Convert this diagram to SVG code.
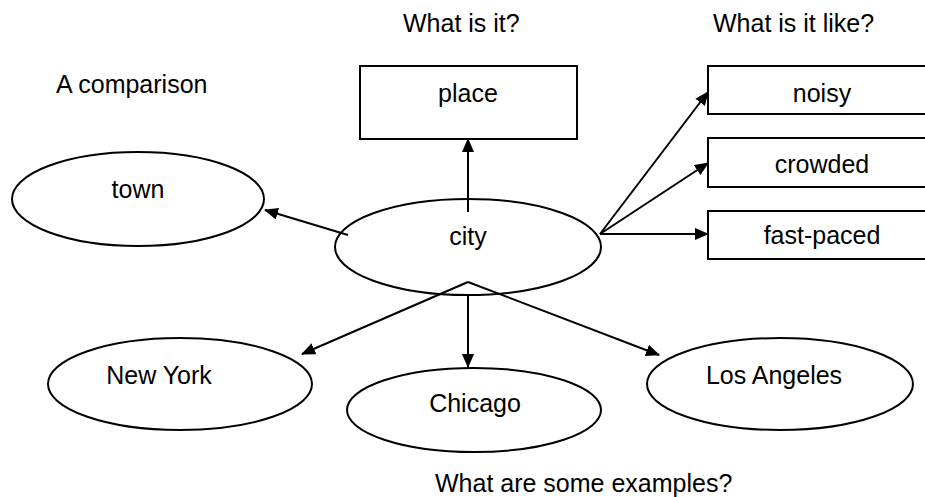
<svg xmlns="http://www.w3.org/2000/svg" width="925" height="497" viewBox="0 0 925 497">
<style>
  text { font-family: "Liberation Sans", Arial, sans-serif; font-size: 25px; fill: #000; }
  .c { text-anchor: middle; }
  .shape { fill: #fff; stroke: #000; stroke-width: 2; }
  .conn line { stroke: #000; stroke-width: 2; }
</style>
<defs>
  <marker id="arr" markerUnits="userSpaceOnUse" markerWidth="14" markerHeight="12" refX="13" refY="6" orient="auto">
    <path d="M0,0 L14,6 L0,12 z" fill="#000"/>
  </marker>
</defs>
<rect width="925" height="497" fill="#fff"/>

<g id="labels">
  <text x="56" y="93">A comparison</text>
  <text x="403" y="32">What is it?</text>
  <text x="713" y="32">What is it like?</text>
  <text x="435" y="492">What are some examples?</text>
</g>

<g id="place">
  <rect class="shape" x="360" y="66" width="217" height="73"/>
  <text class="c" x="468" y="102">place</text>
</g>
<g id="noisy">
  <rect class="shape" x="708" y="66" width="240" height="48"/>
  <text class="c" x="822" y="102">noisy</text>
</g>
<g id="crowded">
  <rect class="shape" x="708" y="138" width="240" height="49"/>
  <text class="c" x="822" y="173">crowded</text>
</g>
<g id="fast-paced">
  <rect class="shape" x="708" y="211" width="240" height="48"/>
  <text class="c" x="822" y="244">fast-paced</text>
</g>
<g id="town">
  <ellipse class="shape" cx="138" cy="199" rx="126" ry="47"/>
  <text class="c" x="138" y="198">town</text>
</g>
<g id="city">
  <ellipse class="shape" cx="468" cy="247" rx="133" ry="48"/>
  <text class="c" x="468" y="245">city</text>
</g>
<g id="new-york">
  <ellipse class="shape" cx="180" cy="384" rx="132" ry="46"/>
  <text class="c" x="159" y="384">New York</text>
</g>
<g id="chicago">
  <ellipse class="shape" cx="474" cy="410" rx="127" ry="42"/>
  <text class="c" x="475" y="412">Chicago</text>
</g>
<g id="los-angeles">
  <ellipse class="shape" cx="780" cy="384" rx="133" ry="46"/>
  <text class="c" x="774" y="384">Los Angeles</text>
</g>

<g id="connectors" class="conn">
  <line x1="468" y1="212" x2="468" y2="139" marker-end="url(#arr)"/>
  <line x1="348" y1="235" x2="265" y2="210" marker-end="url(#arr)"/>
  <line x1="600" y1="234" x2="708" y2="92" marker-end="url(#arr)"/>
  <line x1="600" y1="234" x2="708" y2="163" marker-end="url(#arr)"/>
  <line x1="600" y1="234" x2="708" y2="234" marker-end="url(#arr)"/>
  <line x1="468" y1="282" x2="302" y2="354" marker-end="url(#arr)"/>
  <line x1="468" y1="295" x2="468" y2="367" marker-end="url(#arr)"/>
  <line x1="468" y1="282" x2="659" y2="355" marker-end="url(#arr)"/>
</g>
</svg>
